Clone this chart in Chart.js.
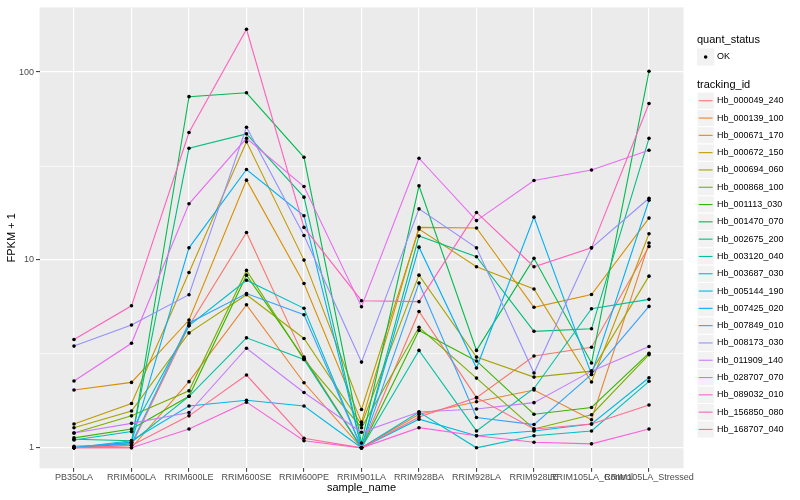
<!DOCTYPE html>
<html>
<head>
<meta charset="utf-8">
<script src="https://cdn.jsdelivr.net/npm/chart.js@4.4.1/dist/chart.umd.min.js"></script>
<style>
  html, body { margin: 0; padding: 0; background: #ffffff; }
  #wrap { width: 800px; height: 500px; position: relative; }
</style>
</head>
<body>
<div id="wrap"><canvas id="myChart" width="800" height="500"></canvas></div>
<script>
"use strict";

// categories on the x axis
var categories = ["PB350LA", "RRIM600LA", "RRIM600LE", "RRIM600SE", "RRIM600PE", "RRIM901LA",
    "RRIM928BA", "RRIM928LA", "RRIM928LE", "RRIM105LA_Control", "RRIM105LA_Stressed"];

var trackingIds = ["Hb_000049_240", "Hb_000139_100", "Hb_000671_170", "Hb_000672_150", "Hb_000694_060",
    "Hb_000868_100", "Hb_001113_030", "Hb_001470_070", "Hb_002675_200", "Hb_003120_040",
    "Hb_003687_030", "Hb_005144_190", "Hb_007425_020", "Hb_007849_010", "Hb_008173_030",
    "Hb_011909_140", "Hb_028707_070", "Hb_089032_010", "Hb_156850_080", "Hb_168707_040"];

// FPKM + 1 per sample
var hb_000049_240 = [1.0, 1.03, 4.47, 14.0, 3.04, 1.0, 5.32, 1.85, 3.08, 3.43, 11.8];
var hb_000139_100 = [1.0, 1.0, 2.25, 5.77, 2.22, 1.0, 1.51, 1.76, 2.03, 1.41, 12.3];
var hb_000671_170 = [2.03, 2.23, 4.79, 26.6, 7.49, 1.37, 14.9, 14.8, 5.6, 6.55, 16.7];
var hb_000672_150 = [1.34, 1.72, 8.57, 42.6, 9.98, 1.6, 14.6, 9.2, 7.0, 2.24, 13.8];
var hb_000694_060 = [1.28, 1.57, 4.09, 6.53, 3.82, 1.33, 8.3, 3.04, 2.38, 2.56, 8.2];
var hb_000868_100 = [1.2, 1.48, 2.01, 8.8, 2.95, 1.28, 4.38, 2.35, 1.26, 1.5, 3.13];
var hb_001113_030 = [1.13, 1.26, 1.88, 8.3, 3.0, 1.0, 4.21, 2.9, 1.51, 1.64, 3.19];
var hb_001470_070 = [1.0, 1.05, 74, 77.6, 35.2, 1.06, 24.8, 3.3, 10.2, 2.83, 101];
var hb_002675_200 = [1.11, 1.09, 39.3, 46.9, 21.6, 1.0, 13.4, 10.4, 4.17, 4.3, 44.4];
var hb_003120_040 = [1.0, 1.07, 1.88, 3.85, 2.95, 1.0, 3.3, 1.23, 2.07, 5.5, 6.17];
var hb_003687_030 = [1.1, 1.22, 4.47, 7.8, 5.53, 1.0, 1.55, 1.0, 1.16, 1.23, 2.26];
var hb_005144_190 = [1.0, 1.09, 1.67, 1.79, 1.67, 1.0, 1.42, 1.16, 1.23, 1.34, 2.36];
var hb_007425_020 = [1.0, 1.07, 11.6, 30.3, 17.2, 1.0, 11.7, 2.66, 16.9, 2.46, 20.8];
var hb_007849_010 = [1.02, 1.05, 4.62, 6.63, 5.11, 1.0, 7.54, 1.45, 1.33, 2.46, 5.66];
var hb_008173_030 = [3.48, 4.51, 6.53, 50.9, 13.5, 2.86, 18.7, 11.6, 2.5, 11.6, 21.3];
var hb_011909_140 = [1.2, 1.35, 1.54, 3.39, 1.97, 1.21, 1.55, 1.61, 1.74, 2.56, 3.46];
var hb_028707_070 = [2.27, 3.6, 19.9, 44.4, 24.6, 5.64, 34.8, 16.2, 26.5, 30.1, 38.4];
var hb_089032_010 = [1.0, 1.0, 1.26, 1.75, 1.09, 1.0, 1.28, 1.16, 1.07, 1.05, 1.26];
var hb_156850_080 = [3.77, 5.7, 47.7, 169, 14.9, 6.07, 6.0, 17.9, 9.2, 11.6, 68];
var hb_168707_040 = [1.0, 1.03, 1.48, 2.44, 1.125, 1.0, 1.46, 1.85, 1.26, 1.34, 1.69];

var series = [hb_000049_240, hb_000139_100, hb_000671_170, hb_000672_150, hb_000694_060,
    hb_000868_100, hb_001113_030, hb_001470_070, hb_002675_200, hb_003120_040,
    hb_003687_030, hb_005144_190, hb_007425_020, hb_007849_010, hb_008173_030,
    hb_011909_140, hb_028707_070, hb_089032_010, hb_156850_080, hb_168707_040];

var yTicks = [1, 10, 100];
var yMinorTicks = [3.1623, 31.623];

var hueColors = ["#F8766D", "#EA8331", "#D89000", "#C09B00", "#A3A500", "#7CAE00", "#39B600",
    "#00BB4E", "#00BF7D", "#00C1A3", "#00BFC4", "#00BAE0", "#00B0F6", "#35A2FF", "#9590FF",
    "#C77CFF", "#E76BF3", "#FA62DB", "#FF62BC", "#FF6C91"];

var FONT = "'Liberation Sans', Arial, Helvetica, sans-serif";

(function () {
    var datasets = series.map(function (vals, i) {
        return {
            label: trackingIds[i],
            data: vals.map(function (v, j) { return { x: j, y: v }; }),
            borderColor: hueColors[i],
            backgroundColor: hueColors[i],
            borderWidth: 1.1,
            pointRadius: 0,
            fill: false,
            tension: 0,
            order: series.length - i
        };
    });

    var okPoints = [];
    series.forEach(function (vals) {
        vals.forEach(function (v, j) { okPoints.push({ x: j, y: v }); });
    });
    datasets.push({
        label: "OK",
        data: okPoints,
        showLine: false,
        pointRadius: 1.8,
        pointBackgroundColor: "#000000",
        pointBorderWidth: 0,
        borderColor: "#000000",
        order: 0
    });

    var panelBg = {
        id: "panelBg",
        beforeDraw: function (chart) {
            var a = chart.chartArea, c = chart.ctx;
            c.save();
            c.fillStyle = "#EBEBEB";
            c.fillRect(a.left, a.top, a.right - a.left, a.bottom - a.top);
            c.restore();
        }
    };

    var ggDecor = {
        id: "ggDecor",
        afterDraw: function (chart) {
            var c = chart.ctx, a = chart.chartArea;
            c.save();
            c.fillStyle = "#000000";
            c.textBaseline = "middle";
            c.font = "11px " + FONT;
            c.textAlign = "center";
            c.fillText("sample_name", (a.left + a.right) / 2, 488);
            c.save();
            c.translate(12, (a.top + a.bottom) / 2);
            c.rotate(-Math.PI / 2);
            c.fillText("FPKM + 1", 0, 0);
            c.restore();

            // legend
            var lx = 697, key = 17.3;
            c.textAlign = "left";
            c.fillText("quant_status", lx, 40);
            c.fillStyle = "#F2F2F2";
            c.fillRect(lx, 48.3, key, key);
            c.fillStyle = "#000000";
            c.beginPath();
            c.arc(lx + key / 2, 48.3 + key / 2, 1.8, 0, Math.PI * 2);
            c.fill();
            c.font = "9px " + FONT;
            c.fillText("OK", lx + 20, 57);

            c.font = "11px " + FONT;
            c.fillText("tracking_id", lx, 85);
            c.font = "9px " + FONT;
            var top0 = 92.1;
            trackingIds.forEach(function (id, i) {
                var y = top0 + i * key;
                c.fillStyle = "#F2F2F2";
                c.fillRect(lx, y, key, key);
                c.strokeStyle = "#FFFFFF";
                c.lineWidth = 1;
                c.strokeRect(lx, y, key, key);
                c.strokeStyle = hueColors[i];
                c.lineWidth = 1.1;
                c.beginPath();
                c.moveTo(lx + 1.7, y + key / 2);
                c.lineTo(lx + key - 1.7, y + key / 2);
                c.stroke();
                c.fillStyle = "#000000";
                c.fillText(id, lx + 20, y + key / 2);
            });
            c.restore();
        }
    };

    var ctx = document.getElementById("myChart").getContext("2d");
    var chart = new Chart(ctx, {
        type: "line",
        data: { datasets: datasets },
        options: {
            responsive: false,
            animation: false,
            devicePixelRatio: 1,
            layout: { padding: { left: 0, top: 5, right: 116.5, bottom: 0 } },
            plugins: {
                legend: { display: false },
                tooltip: { enabled: false }
            },
            scales: {
                x: {
                    type: "linear",
                    min: -0.6,
                    max: 10.6,
                    afterBuildTicks: function (s) {
                        s.ticks = categories.map(function (c, i) { return { value: i }; });
                    },
                    afterFit: function (s) { s.height = 31.7; },
                    ticks: {
                        autoSkip: false,
                        maxRotation: 0,
                        minRotation: 0,
                        padding: 0,
                        color: "#4D4D4D",
                        font: { family: FONT, size: 9 },
                        callback: function (v) { return categories[v]; }
                    },
                    grid: {
                        color: "#FFFFFF",
                        lineWidth: 1.2,
                        tickColor: "#333333",
                        tickLength: 3.5,
                        tickWidth: 1
                    },
                    border: { display: false }
                },
                y: {
                    type: "logarithmic",
                    min: 0.778,
                    max: 221,
                    afterBuildTicks: function (s) {
                        s.ticks = yTicks.concat(yMinorTicks).sort(function (p, q) { return p - q; })
                            .map(function (v) { return { value: v }; });
                    },
                    afterFit: function (s) { s.width = 39.5; },
                    ticks: {
                        padding: 2,
                        color: "#4D4D4D",
                        font: { family: FONT, size: 9 },
                        callback: function (v) { return yTicks.indexOf(v) >= 0 ? String(v) : ""; }
                    },
                    grid: {
                        color: "#FFFFFF",
                        lineWidth: function (c) {
                            return c.tick && yTicks.indexOf(c.tick.value) >= 0 ? 1.2 : 0.6;
                        },
                        tickColor: function (c) {
                            return c.tick && yTicks.indexOf(c.tick.value) >= 0 ? "#333333" : "rgba(0,0,0,0)";
                        },
                        tickLength: 3.5,
                        tickWidth: 1
                    },
                    border: { display: false }
                }
            }
        },
        plugins: [panelBg, ggDecor]
    });
})();
</script>
</body>
</html>
